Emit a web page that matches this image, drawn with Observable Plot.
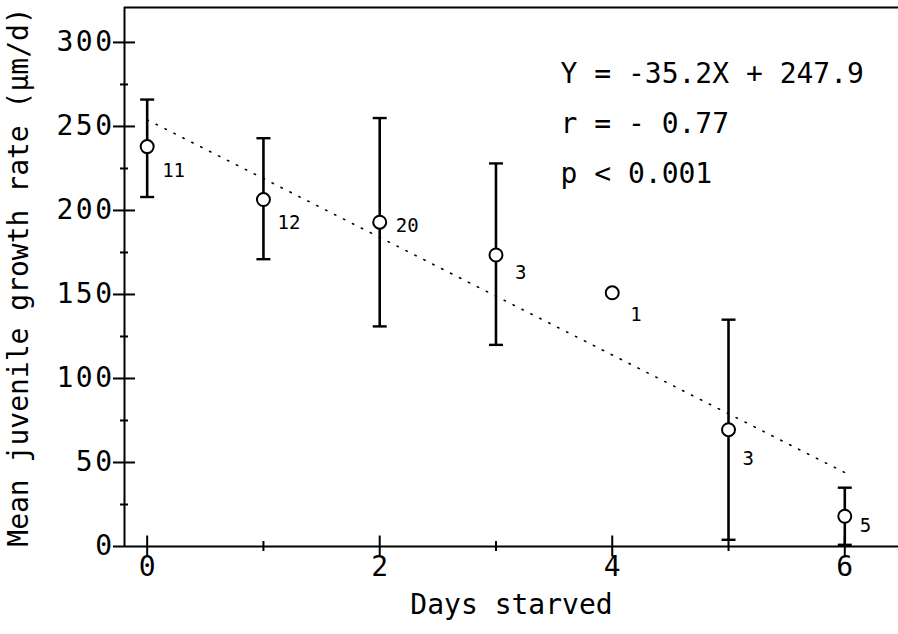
<!DOCTYPE html>
<html>
<head>
<meta charset="utf-8">
<script src="https://cdn.jsdelivr.net/npm/d3@7"></script>
<script src="https://cdn.jsdelivr.net/npm/@observablehq/plot@0.6"></script>
<style>
  html, body { margin: 0; padding: 0; background: white; overflow: hidden; }
  svg g[aria-label="y-axis tick label"] text { letter-spacing: 2.5px; }
</style>
</head>
<body>
<div id="chart"></div>
<script>
// ---- data ----
const days      = [0, 1, 2, 3, 4, 5, 6];
const meanRate  = [238, 206.5, 193, 173.5, 151, 69.5, 18];
const errLow    = [208, 171, 131, 120, null, 4, 1];
const errHigh   = [266, 243, 255, 228, null, 135, 35];
const nLabels   = ["11", "12", "20", "3", "1", "3", "5"];

// regression line as drawn (dotted)
const fitX = [0, 6];
const fitY = [254, 44];

const statLines = ["Y = -35.2X + 247.9", "r = - 0.77", "p < 0.001"];

const xMajor = [0, 2, 4, 6];
const xMinor = [1, 3, 5];
const yMajor = [0, 50, 100, 150, 200, 250, 300];
const yMinor = [25, 75, 125, 175, 225, 275];

const xLabel = "Days starved";
const yLabel = "Mean juvenile growth rate (\u03bcm/d)";

const xDomain = [-0.195, 6.462];
const yDomain = [0, 320.8];

// ---- build ----
const points = days.map((d, i) => ({x: d, y: meanRate[i], lo: errLow[i], hi: errHigh[i], n: nLabels[i]}));
const fit = fitX.map((x, i) => ({x, y: fitY[i]}));
const bars = points.filter(p => p.lo != null);

// n-label offsets (px) — styling only
const labelOffsets = [[15, 24], [14, 23.5], [16, 4], [19, 17.5], [18, 22], [14, 29], [15, 10]];

const capSymbol = {
  draw(context, size) {
    const w = Math.sqrt(size / Math.PI);
    context.moveTo(-w, 0);
    context.lineTo(w, 0);
  }
};

const FONT = "DejaVu Sans Mono";
const FS = 28;

const chart = Plot.plot({
  width: 898,
  height: 634,
  marginLeft: 124,
  marginRight: 0,
  marginTop: 7,
  marginBottom: 88,
  x: {domain: xDomain},
  y: {domain: yDomain},
  style: {fontFamily: FONT, fontSize: FS + "px", background: "white", color: "black"},
  marks: [
    // frame lines
    Plot.ruleX([xDomain[0]], {stroke: "black", strokeWidth: 2}),
    Plot.ruleY([yDomain[1]], {stroke: "black", strokeWidth: 2}),
    Plot.ruleY([0], {stroke: "black", strokeWidth: 2}),

    // y ticks (crossing)
    Plot.axisY({ticks: yMajor.filter(v => v > 0), tickSize: 22, dx: 11, fill: "none", label: null, strokeWidth: 2}),
    Plot.axisY({ticks: [0], tickSize: 11, fill: "none", label: null, strokeWidth: 2}),
    Plot.axisY({ticks: yMinor, tickSize: 8, dx: 4, fill: "none", label: null, strokeWidth: 2}),
    Plot.axisY({ticks: yMajor, tickSize: 0, tickPadding: 10, label: null, fontSize: FS, tickFormat: d => String(d)}),

    // x ticks (crossing)
    Plot.axisX({ticks: xMajor, tickSize: 21, dy: -10.5, fill: "none", label: null, strokeWidth: 2}),
    Plot.axisX({ticks: xMinor, tickSize: 10, dy: -5, fill: "none", label: null, strokeWidth: 2}),
    Plot.axisX({ticks: xMajor, tickSize: 0, tickPadding: 10, label: null, fontSize: FS, tickFormat: d => String(d)}),

    // axis titles
    Plot.text([xLabel], {frameAnchor: "bottom", dy: 67, textAnchor: "middle", fontSize: FS, fill: "black"}),
    Plot.text([yLabel], {frameAnchor: "left", dx: -105, rotate: -90, textAnchor: "middle", fontSize: FS, fill: "black"}),

    // regression line (dotted)
    Plot.line(fit, {x: "x", y: "y", stroke: "black", strokeWidth: 1.6, strokeDasharray: "1.4,8.6"}),

    // error bars
    Plot.ruleX(bars, {x: "x", y1: "lo", y2: "hi", stroke: "black", strokeWidth: 2.6}),
    Plot.dot(bars, {x: "x", y: "hi", symbol: capSymbol, r: 7, stroke: "black", strokeWidth: 2.4}),
    Plot.dot(bars, {x: "x", y: "lo", symbol: capSymbol, r: 7, stroke: "black", strokeWidth: 2.4}),

    // means
    Plot.dot(points, {x: "x", y: "y", r: 6.5, fill: "white", stroke: "black", strokeWidth: 2}),

    // n labels
    ...points.map((p, i) => Plot.text([p], {
      x: "x", y: "y", text: "n", textAnchor: "start",
      dx: labelOffsets[i][0], dy: labelOffsets[i][1], fontSize: 19, fill: "black"
    })),

    // statistics
    ...statLines.map((t, i) => Plot.text([t], {
      frameAnchor: "top-left", dx: 436, dy: 56 + 50 * i, lineAnchor: "top",
      fontSize: FS, fill: "black"
    }))
  ]
});

document.getElementById("chart").appendChild(chart);
</script>
</body>
</html>
